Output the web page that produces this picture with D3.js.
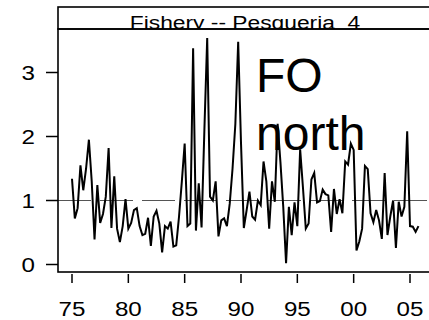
<!DOCTYPE html>
<html>
<head>
<meta charset="utf-8">
<script src="https://cdn.jsdelivr.net/npm/d3@7"></script>
<style>
    body { margin: 0; background: #fff; }
    svg { display: block; font-family: "Liberation Sans", Arial, sans-serif; }
</style>
</head>
<body>
<svg id="chart" width="429" height="320"></svg>
<script>
// quarterly values, first quarter 1975
const startYear = 1975;
const foValues = [
    1.34, 0.72, 0.88, 1.55, 1.16, 1.5, 1.95, 1.3, 0.39, 1.24,
    0.65, 0.79, 1.06, 1.82, 0.57, 1.38, 0.56, 0.35, 0.6, 1.02,
    0.56, 0.65, 0.85, 0.88, 0.6, 0.46, 0.48, 0.73, 0.29, 0.75,
    0.84, 0.64, 0.19, 0.6, 0.56, 0.67, 0.28, 0.3, 0.75, 1.3,
    1.89, 0.6, 0.64, 3.38, 0.53, 1.27, 0.58, 2.1, 3.54, 1.06,
    1.0, 1.3, 0.44, 0.69, 0.72, 0.6, 0.95, 1.5, 2.2, 3.48,
    1.9, 0.57, 0.85, 1.14, 0.75, 0.7, 1.0, 0.93, 1.61, 1.3,
    0.56, 1.3, 0.98, 2.2, 1.6, 0.9, 0.02, 0.9, 0.46, 0.97,
    0.6, 1.8, 1.2, 0.56, 0.64, 1.33, 1.43, 0.97, 0.99, 1.17,
    1.1, 1.08, 0.51, 1.18, 0.79, 1.02, 0.8, 1.61, 1.56, 1.89,
    1.79, 0.22, 0.36, 0.56, 1.54, 1.49, 0.8, 0.66, 0.85, 0.69,
    0.4, 1.43, 0.46, 0.75, 1.0, 0.26, 0.98, 0.75, 0.9, 2.08,
    0.6, 0.59, 0.51, 0.6,
];
const xTickYears = [1975, 1980, 1985, 1990, 1995, 2000, 2005];
const xTickLabels = ['75', '80', '85', '90', '95', '00', '05'];
const yTicks = [0, 1, 2, 3];
const refValue = 1;
const stripTitle = 'Fishery -- Pesqueria  4';
const panelLabel = ['FO', 'north'];

const panel = { left: 58, right: 432, stripTop: 7, top: 29, bottom: 272 };

const svg = d3.select('#chart');

const x = d3.scaleLinear().domain([1975, 2005]).range([72, 410]);
const y = d3.scaleLinear().domain([0, 3]).range([264.5, 72.5]);

// reference line
svg.append('line').
    attr('x1', panel.left).
    attr('x2', panel.right).
    attr('y1', y(refValue)).
    attr('y2', y(refValue)).
    attr('stroke', '#555').
    attr('stroke-width', 1).
    attr('stroke-dasharray', '33,9');

// panel label
svg.append('g').
    selectAll('text').
    data(panelLabel).
    enter().
    append('text').
    attr('x', 256).
    attr('y', (d, i) => 92 + i * 58).
    attr('font-size', 48).
    attr('fill', '#000').
    text(d => d);

// the series
const line = d3.line().
    x((d, i) => x(startYear + i / 4)).
    y(d => y(d));
svg.append('path').
    attr('d', line(foValues)).
    attr('fill', 'none').
    attr('stroke', '#000').
    attr('stroke-width', 2).
    attr('stroke-linejoin', 'miter');

// strip
svg.append('clipPath').attr('id', 'stripClip').
    append('rect').
    attr('x', panel.left).
    attr('y', panel.stripTop).
    attr('width', panel.right - panel.left).
    attr('height', panel.top - panel.stripTop);
svg.append('g').
    attr('clip-path', 'url(#stripClip)').
    append('text').
    attr('transform', `translate(245, 28.5) scale(1.2, 1)`).
    attr('text-anchor', 'middle').
    attr('font-size', 19).
    style('white-space', 'pre').
    text(stripTitle);
svg.append('rect').
    attr('x', panel.left).
    attr('y', panel.stripTop).
    attr('width', panel.right - panel.left).
    attr('height', panel.top - panel.stripTop).
    attr('fill', 'none').
    attr('stroke', '#000').
    attr('stroke-width', 1.6);

// panel box
svg.append('rect').
    attr('x', panel.left).
    attr('y', panel.top).
    attr('width', panel.right - panel.left).
    attr('height', panel.bottom - panel.top).
    attr('fill', 'none').
    attr('stroke', '#000').
    attr('stroke-width', 1.6);

// y axis
const yAxis = svg.append('g');
yAxis.selectAll('line').
    data(yTicks).
    enter().
    append('line').
    attr('x1', 46).
    attr('x2', panel.left).
    attr('y1', d => y(d)).
    attr('y2', d => y(d)).
    attr('stroke', '#000').
    attr('stroke-width', 1.5);
yAxis.selectAll('text').
    data(yTicks).
    enter().
    append('text').
    attr('transform', d => `translate(35, ${y(d) + 7.5}) scale(1.15, 1)`).
    attr('text-anchor', 'end').
    attr('font-size', 21).
    text(d => d);

// x axis
const xAxis = svg.append('g');
xAxis.selectAll('line').
    data(xTickYears).
    enter().
    append('line').
    attr('x1', d => x(d)).
    attr('x2', d => x(d)).
    attr('y1', 274).
    attr('y2', 283).
    attr('stroke', '#000').
    attr('stroke-width', 1.5);
xAxis.selectAll('text').
    data(xTickYears).
    enter().
    append('text').
    attr('transform', d => `translate(${x(d)}, 316) scale(1.15, 1)`).
    attr('text-anchor', 'middle').
    attr('font-size', 21).
    text((d, i) => xTickLabels[i]);
</script>
</body>
</html>
